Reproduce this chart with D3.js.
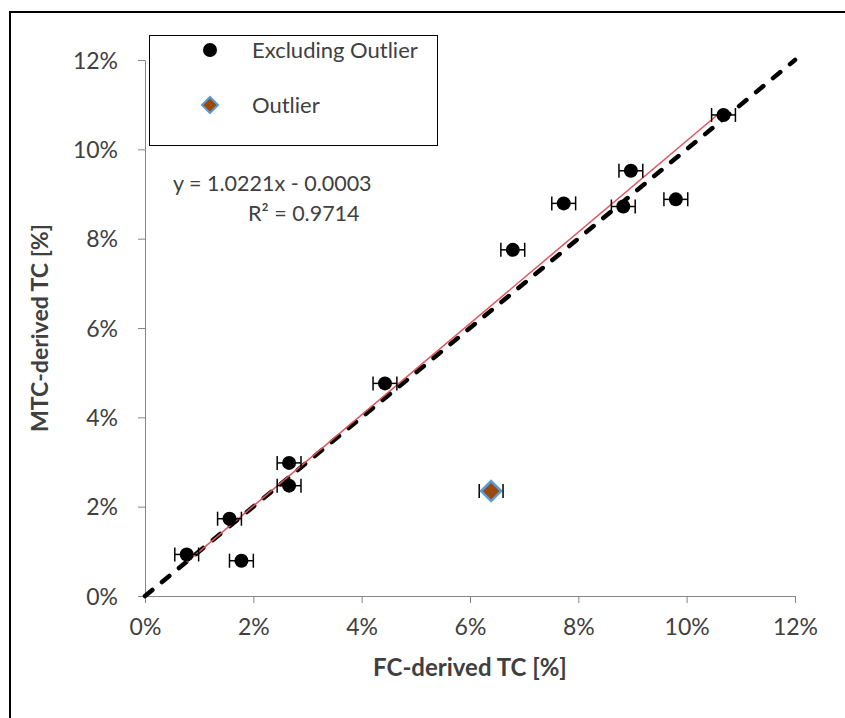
<!DOCTYPE html>
<html>
<head>
<meta charset="utf-8">
<script src="https://cdn.jsdelivr.net/npm/d3@7"></script>
<style>
  html, body { margin: 0; padding: 0; background: #fff; }
  svg { display: block; font-family: Lato, "Open Sans", sans-serif; }
</style>
</head>
<body>
<div id="chart"></div>
<script>
// --- Data (values in percent) ---
const fcValues  = [0.77, 1.78, 1.56, 2.66, 2.66, 4.43, 6.79, 7.73, 8.83, 8.97, 9.80, 10.68];
const mtcValues = [0.93, 0.79, 1.73, 2.47, 2.98, 4.76, 7.75, 8.79, 8.72, 9.52, 8.88, 10.77];
const outlierFc  = [6.39];
const outlierMtc = [2.35];
const fcError = 0.22;
const tickValues = [0, 2, 4, 6, 8, 10, 12];
const legendLabels = ['Excluding Outlier', 'Outlier'];
const trendSlope = 1.0221;
const trendIntercept = -0.0003;
const equationLines = ['y = 1.0221x - 0.0003', 'R² = 0.9714'];

// --- Layout ---
const width = 845, height = 718;
const plot = { left: 145, right: 795, top: 60, bottom: 596 };
const axisColor = '#868686';
const textColor = '#404040';

const svg = d3.select('#chart').append('svg')
    .attr('width', width)
    .attr('height', height);

// chart frame (only top and left edges visible in the crop)
svg.append('rect')
    .attr('x', 10).attr('y', 12)
    .attr('width', width + 20).attr('height', height + 20)
    .attr('fill', 'none')
    .attr('stroke', '#000')
    .attr('stroke-width', 2);

const x = d3.scaleLinear().domain([0, 12]).range([plot.left, plot.right]);
const y = d3.scaleLinear().domain([0, 12]).range([plot.bottom, plot.top]);

const fmt = d => d + '%';

// axes
const xAxis = svg.append('g')
    .attr('transform', `translate(0,${plot.bottom})`)
    .call(d3.axisBottom(x).tickValues(tickValues).tickFormat(fmt).tickSize(7).tickSizeOuter(0).tickPadding(10));

const yAxis = svg.append('g')
    .attr('transform', `translate(${plot.left},0)`)
    .call(d3.axisLeft(y).tickValues(tickValues).tickFormat(fmt).tickSize(7).tickSizeOuter(0).tickPadding(20));

[xAxis, yAxis].forEach(g => {
    g.select('.domain').attr('stroke', axisColor);
    g.selectAll('.tick line').attr('stroke', axisColor);
    g.selectAll('.tick text')
        .attr('fill', textColor)
        .style('font-size', '23px')
        .style('font-family', 'Lato, sans-serif');
});
xAxis.selectAll('.tick text').attr('dy', '0.95em');
yAxis.selectAll('.tick text').attr('dy', '0.36em');

// axis titles
svg.append('text')
    .attr('x', (plot.left + plot.right) / 2)
    .attr('y', 676)
    .attr('text-anchor', 'middle')
    .attr('fill', textColor)
    .style('font-size', '24px')
    .style('font-weight', 'bold')
    .text('FC-derived TC [%]');

svg.append('text')
    .attr('transform', `translate(48,${(plot.top + plot.bottom) / 2}) rotate(-90)`)
    .attr('text-anchor', 'middle')
    .attr('fill', textColor)
    .style('font-size', '23px')
    .style('font-weight', 'bold')
    .text('MTC-derived TC [%]');

// 1:1 line
svg.append('line')
    .attr('x1', x(0)).attr('y1', y(0))
    .attr('x2', x(12)).attr('y2', y(12))
    .attr('stroke', '#000')
    .attr('stroke-width', 4.5)
    .attr('stroke-linecap', 'round')
    .attr('stroke-dasharray', '9.5 12.5');

// linear trendline over the non-outlier range
const trendX = d3.extent(fcValues);
svg.append('line')
    .attr('x1', x(trendX[0])).attr('y1', y(trendSlope * trendX[0] + trendIntercept * 100))
    .attr('x2', x(trendX[1])).attr('y2', y(trendSlope * trendX[1] + trendIntercept * 100))
    .attr('stroke', '#e0565a')
    .attr('stroke-width', 1.5);

// error bars
const allFc = fcValues.concat(outlierFc);
const allMtc = mtcValues.concat(outlierMtc);
const errG = svg.append('g').attr('stroke', '#000').attr('stroke-width', 1.5);
allFc.forEach((v, i) => {
    const cy = y(allMtc[i]);
    errG.append('line')
        .attr('x1', x(v - fcError)).attr('x2', x(v + fcError))
        .attr('y1', cy).attr('y2', cy);
    [v - fcError, v + fcError].forEach(e => {
        errG.append('line')
            .attr('x1', x(e)).attr('x2', x(e))
            .attr('y1', cy - 7).attr('y2', cy + 7);
    });
});

// points
svg.append('g').selectAll('circle')
    .data(fcValues)
    .join('circle')
    .attr('cx', d => x(d))
    .attr('cy', (d, i) => y(mtcValues[i]))
    .attr('r', 7)
    .attr('fill', '#000');

const diamond = (cx, cy, r) => `M${cx},${cy - r}L${cx + r},${cy}L${cx},${cy + r}L${cx - r},${cy}Z`;

svg.append('g').selectAll('path')
    .data(outlierFc)
    .join('path')
    .attr('d', (d, i) => diamond(x(d), y(outlierMtc[i]), 10))
    .attr('fill', '#9a4a0e')
    .attr('stroke', '#5b9bd5')
    .attr('stroke-width', 2.5);

// legend
const legend = svg.append('g');
legend.append('rect')
    .attr('x', 149.5).attr('y', 35.5)
    .attr('width', 288).attr('height', 110)
    .attr('fill', '#fff')
    .attr('stroke', '#000')
    .attr('stroke-width', 1);
legend.append('circle')
    .attr('cx', 210).attr('cy', 50).attr('r', 7).attr('fill', '#000');
legend.append('path')
    .attr('d', diamond(210, 105, 8))
    .attr('fill', '#9a4a0e')
    .attr('stroke', '#5b9bd5')
    .attr('stroke-width', 2);
legend.selectAll('text.lbl')
    .data(legendLabels)
    .join('text')
    .attr('class', 'lbl')
    .attr('x', 252)
    .attr('y', (d, i) => 50 + i * 55)
    .attr('dy', '0.36em')
    .attr('fill', textColor)
    .style('font-size', '22px')
    .text(d => d);

// trendline equation
svg.selectAll('text.eq')
    .data(equationLines)
    .join('text')
    .attr('class', 'eq')
    .attr('x', (d, i) => i === 0 ? 173 : 248)
    .attr('y', (d, i) => 183 + i * 30)
    .attr('dy', '0.36em')
    .attr('fill', textColor)
    .style('font-size', '21.5px')
    .text(d => d);
</script>
</body>
</html>
